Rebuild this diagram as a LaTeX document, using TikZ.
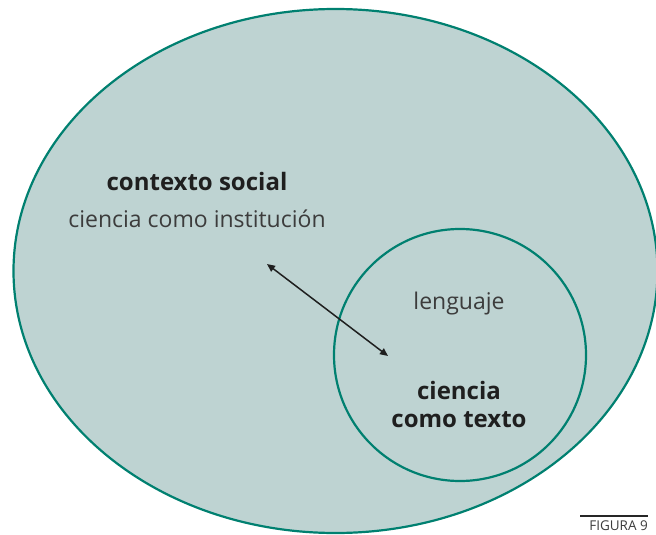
\documentclass[tikz,border=0pt]{standalone}
\usepackage{fontspec}
\setmainfont{Open Sans}
\usetikzlibrary {positioning}
\usetikzlibrary {arrows.meta}
\definecolor{tealline}{RGB}{0,128,112}
\definecolor{tealfill}{RGB}{190,211,210}
\definecolor{textgray}{RGB}{60,60,60}

\begin{document}
\begin{tikzpicture}[x=1pt, y=-1pt, none/.style={},
      region/.style={draw=tealline, line width=2.2, fill=tealfill},
      bold/.style={font=\fontsize{24}{28}\selectfont\bfseries, text=black!88, align=center},
      light/.style={font=\fontsize{23}{28}\selectfont, text=textgray, align=center},
      link/.style={line width=1.5, black!88, {Triangle[width=7pt, length=8pt]}-{Triangle[width=7pt, length=8pt]}}
    ]
    \useasboundingbox (0, 0) rectangle (656, 535);
    % regions
    \draw[region] (335.5, 271) ellipse [x radius=322, y radius=262];
    \draw[region] (460, 355) circle (126);

    % labels
    \node [bold] (social) at (197, 181) {contexto social};
    \node [light] (inst) at (197, 219) {ciencia como instituci\'on};
    \node [light] (leng) at (459, 304) {lenguaje};
    \node [bold] (texto) at (459, 404) {ciencia\\como texto};

    % link
    \coordinate (a0) at (267, 264);
    \coordinate (a1) at (388, 356);
    \draw[link] (a0) to (a1);

    % caption
    \coordinate (c0) at (580, 516);
    \coordinate (c1) at (648, 516);
    \draw[line width=1.5, black!85] (c0) to (c1);
    \node [none, font=\fontsize{13.5}{15}\selectfont, text=textgray, anchor=north east, inner sep=0] (fig) at (648, 521) {FIGURA 9};
\end{tikzpicture}
\end{document}
